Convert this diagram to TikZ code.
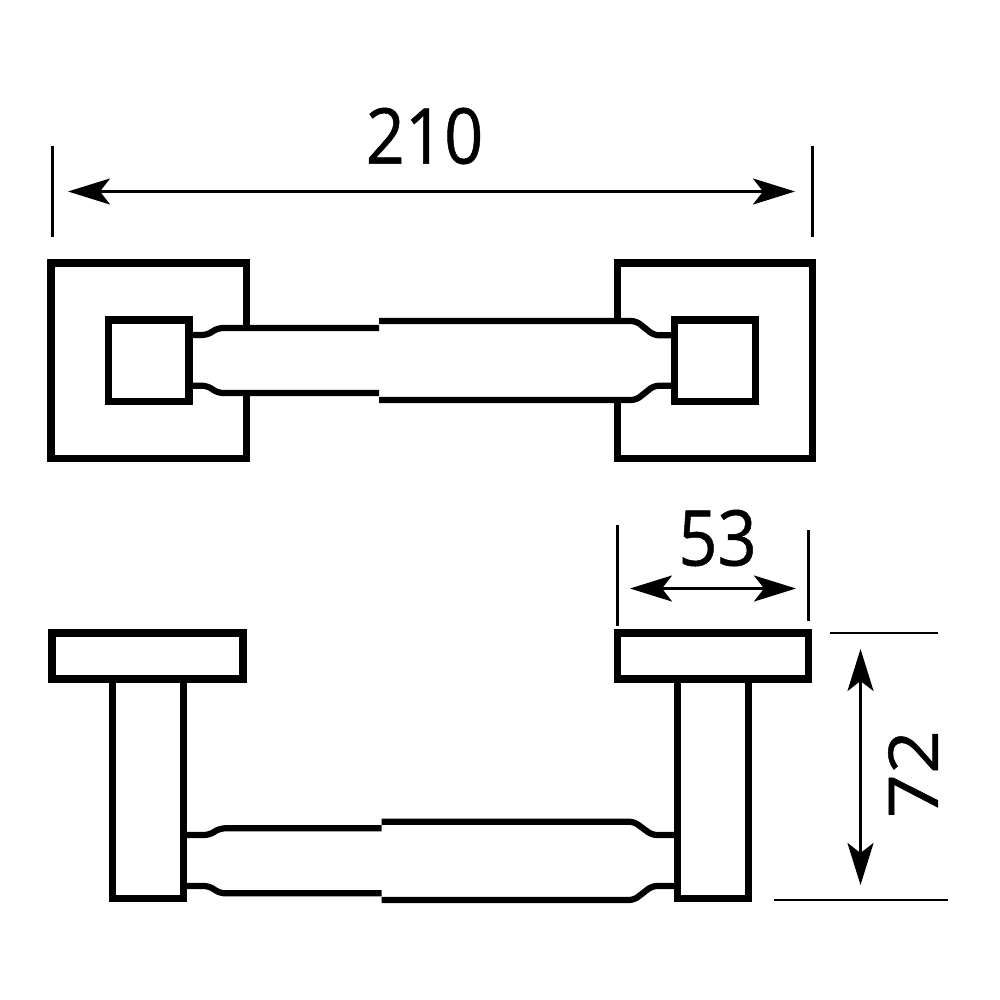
\documentclass[tikz,border=0pt]{standalone}
\usepackage{fontspec}
\setmainfont{Open Sans}
\newfontfamily\dimfont[FakeBold=0.7]{Open Sans}
\usetikzlibrary{arrows.meta}
\tikzset{
  heavy/.style={line width=7.6pt,line join=miter,black},
  stem/.style={line width=6.2pt,rounded corners=5pt,black},
  extline/.style={line width=2.4pt,black},
  dimline/.style={line width=2.8pt,black,{Stealth[length=42pt,width=26pt,inset=10pt]}-{Stealth[length=42pt,width=26pt,inset=10pt]}},
  dimtext/.style={inner sep=0pt,font=\dimfont\fontsize{77}{77}\selectfont,xscale=0.89}
}
\begin{document}
\begin{tikzpicture}[x=1pt,y=-1pt]
\useasboundingbox (0,0) rectangle (1000,1000);
% --- top view, plates
\draw[heavy] (246.5,326) -- (246.5,263) -- (51,263) -- (51,458.5) -- (246.5,458.5) -- (246.5,392);
\draw[heavy] (617.5,321) -- (617.5,263) -- (812.5,263) -- (812.5,458.5) -- (617.5,458.5) -- (617.5,400);
\draw[heavy] (108.5,320) rectangle (189,401.5);
\draw[heavy] (674.5,320) rectangle (755.5,401.5);
% --- top view, left stem
\draw[stem] (192,335) -- (207,335) -- (218,328) -- (379,328);
\draw[stem] (192,385.7) -- (207,385.7) -- (218,393) -- (379,393);
% --- top view, right stem
\draw[stem] (379,321) -- (636,321) -- (654,335.3) -- (672,335.3);
\draw[stem] (379,400) -- (636,400) -- (654,385.7) -- (672,385.7);
% --- side view, plates and posts
\draw[heavy] (52,633) rectangle (243,678.8);
\draw[heavy] (617.5,633) rectangle (808.5,678.8);
\draw[heavy] (112.5,682) -- (112.5,898.5) -- (183.5,898.5) -- (183.5,682);
\draw[heavy] (677.5,682) -- (677.5,898.5) -- (748.5,898.5) -- (748.5,682);
% --- side view, left stem
\draw[stem] (187,835) -- (209,835) -- (220,828.3) -- (381.7,828.3);
\draw[stem] (187,886) -- (209,886) -- (220,893.3) -- (381.7,893.3);
% --- side view, right stem
\draw[stem] (381.7,821.7) -- (634,821.7) -- (652,835) -- (675,835);
\draw[stem] (381.7,900) -- (634,900) -- (652,886) -- (675,886);
% --- dimension 210
\coordinate (w1) at (68,191.5); \coordinate (w2) at (795,191.5);
\coordinate (wa1) at (52.5,146); \coordinate (wa2) at (52.5,237);
\coordinate (wb1) at (812.5,146); \coordinate (wb2) at (812.5,237);
\draw[extline] (wa1) -- (wa2);
\draw[extline] (wb1) -- (wb2);
\draw[dimline] (w1) -- (w2);
\node[dimtext] (t210) at (424.5,136) {210};
% --- dimension 53
\coordinate (d1) at (630,588.5); \coordinate (d2) at (796,588.5);
\coordinate (da1) at (617.5,525); \coordinate (da2) at (617.5,626);
\coordinate (db1) at (808.5,530); \coordinate (db2) at (808.5,621);
\draw[extline] (da1) -- (da2);
\draw[extline] (db1) -- (db2);
\draw[dimline] (d1) -- (d2);
\node[dimtext] (t53) at (717.5,538) {53};
% --- dimension 72
\coordinate (h1) at (860.5,649); \coordinate (h2) at (860.5,885);
\coordinate (ha1) at (830,633); \coordinate (ha2) at (938,633);
\coordinate (hb1) at (774,900); \coordinate (hb2) at (948,900);
\draw[extline] (ha1) -- (ha2);
\draw[extline] (hb1) -- (hb2);
\draw[dimline] (h1) -- (h2);
\node[dimtext,rotate=90] (t72) at (913,774) {72};
\end{tikzpicture}
\end{document}
